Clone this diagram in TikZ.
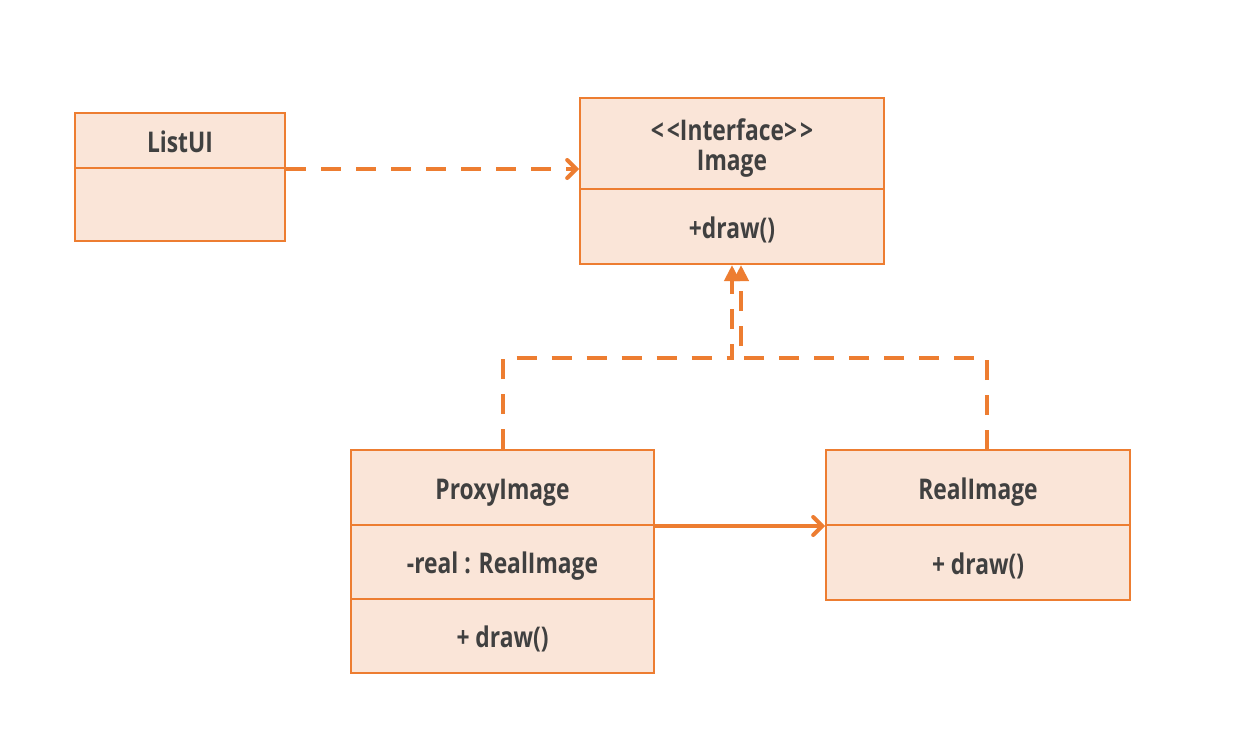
\documentclass[tikz,border=0pt]{standalone}
\usepackage{fontspec}
\setmainfont{Open Sans}[FakeStretch=0.8]
\usetikzlibrary{arrows.meta}
\definecolor{boxfill}{HTML}{FAE5D8}
\definecolor{boxline}{HTML}{ED7D31}
\definecolor{txt}{HTML}{404040}
\tikzset{
  txtfont/.style={font=\fontsize{28.5}{30}\selectfont\bfseries, text=txt, align=center},
  cell/.style={draw=boxline, fill=boxfill, line width=2pt, rectangle, inner sep=0pt,
    txtfont, text height=23pt, text depth=0pt},
  dep/.style={draw=boxline, line width=4pt, dash pattern=on 20pt off 15pt,
    -{Straight Barb[length=9pt,width=18pt,line cap=round,line width=4pt]}},
  assoc/.style={draw=boxline, line width=4pt,
    -{Straight Barb[length=9pt,width=18pt,line cap=round,line width=4pt]}},
  realz/.style={draw=boxline, line width=4pt, dash pattern=on 20pt off 15pt,
    -{Triangle[length=16pt,width=15pt,fill=boxline]}},
}
\begin{document}
\begin{tikzpicture}[x=1pt,y=-1pt]
\useasboundingbox (0,0) rectangle (1245,752);
% ListUI
\node[cell, minimum width=210pt, minimum height=55pt] (listA) at (180,140.5) {ListUI};
\node[cell, minimum width=210pt, minimum height=73pt] (listB) at (180,204.5) {};
% Image
\node[cell, minimum width=304pt, minimum height=91pt,
  label={[txtfont, yshift=-4.5pt]center:{<\kern3pt<Interface>\kern3pt>\\Image}}] (imgA) at (732,143.5) {};
\node[cell, minimum width=304pt, minimum height=75pt] (imgB) at (732,226.5) {+draw()};
% ProxyImage
\node[cell, minimum width=303pt, minimum height=75pt] (proxyA) at (502.5,487.5) {ProxyImage};
\node[cell, minimum width=303pt, minimum height=74pt] (proxyB) at (502.5,562) {-real : RealImage};
\node[cell, minimum width=303pt, minimum height=74pt] (proxyC) at (502.5,636) {+ draw()};
% RealImage
\node[cell, minimum width=304pt, minimum height=75pt] (realA) at (978,487.5) {RealImage};
\node[cell, minimum width=304pt, minimum height=75pt] (realB) at (978,562.5) {+ draw()};
% connectors
\draw[dep] (listA.south east) -- (listA.south east -| imgA.west);
\draw[assoc] (proxyA.south east) -- (proxyA.south east -| realA.west);
\coordinate (j1) at (732,358);
\coordinate (j2) at (741,358);
\coordinate (rtop) at (987,450);
\draw[realz] (proxyA.north) |- (j1) -- (j1 |- imgB.south);
\draw[realz] (rtop) |- (j2) -- (j2 |- imgB.south);
\end{tikzpicture}
\end{document}
